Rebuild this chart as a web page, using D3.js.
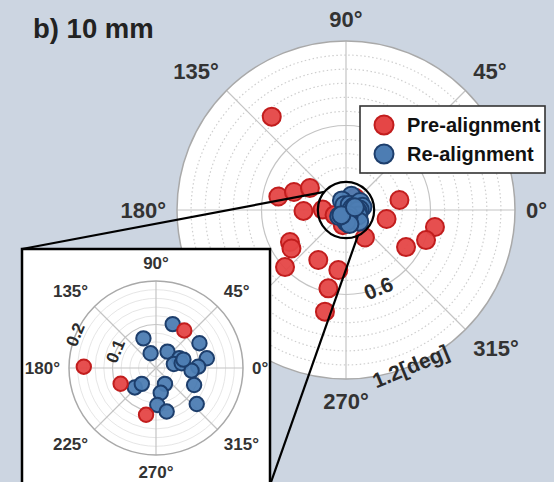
<!DOCTYPE html>
<html>
<head>
<meta charset="utf-8">
<script src="https://cdn.jsdelivr.net/npm/d3@7"></script>
<style>
  html, body { margin: 0; padding: 0; background: #ccd5e1; }
  svg { display: block; }
  text { font-family: "Liberation Sans", Arial, sans-serif; font-weight: bold; }
</style>
</head>
<body>
<svg id="chart" width="554" height="482"></svg>
<script>
// Pointing error (deg) and direction (deg) per measurement
const preRadius = [0.847, 0.490, 0.391, 0.300, 0.302, 0.166, 0.110, 0.089, 0.108,
                   0.386, 0.295, 0.643, 0.607, 0.501, 0.237, 0.458, 0.474, 0.593,
                   0.406, 0.430, 0.570, 0.737];
const preAngle  = [128.5, 168.7, 160.9, 148.6, 181.3, 179, 258, 204, 53,
                   10.6, 347.5, 349.2, 339.4, 328.3, 304.6, 209.7, 215.2, 223.1,
                   241, 262.7, 257.3, 258.3];
const reRadius  = [0.108, 0.074, 0.036, 0.046, 0.058, 0.042, 0.060, 0.115, 0.119,
                   0.097, 0.082, 0.096, 0.125, 0.042, 0.058, 0.085, 0.103, 0.066,
                   0.049, 0.066];
const reAngle   = [69.2, 113, 110, 55, 22.6, 12.5, 10.4, 29.7, 10.8,
                   1.8, 355.7, 335.9, 318.5, 299.4, 280.8, 272, 283.8, 222.6,
                   228.2, 17];

const angleTicks = [0, 45, 90, 135, 180, 225, 270, 315];
const mainRingTicks = [0.1, 0.2, 0.3, 0.4, 0.5, 0.6, 0.7, 0.8, 0.9, 1.0, 1.1];
const mainMajorRings = [0.6];
const mainRadialLabels = ["0.6", "1.2[deg]"];
const mainRadialLabelValues = [0.6, 1.2];
const insetRingTicks = [0.02, 0.04, 0.06, 0.08, 0.1, 0.12, 0.14, 0.16, 0.18];
const insetMajorRings = [0.1];
const insetRadialLabels = ["0.1", "0.2"];
const insetRadialLabelValues = [0.1, 0.2];

const seriesNames = ["Pre-alignment", "Re-alignment"];
const colors = {
  pre: { fill: "#e54646", stroke: "#c21d1d" },
  re:  { fill: "#4d7db3", stroke: "#1d3e6c" }
};

const svg = d3.select("#chart");
const rad = d => d * Math.PI / 180;

function polarPlot(g, opts) {
  const { cx, cy, rMax, rDomainMax, ringTicks, majorRings, minorStyle,
          labelSize, labelPad, markerR, radialLabels, radialValues,
          radialAngle, radialSize, drawOrder } = opts;
  const r = d3.scaleLinear().domain([0, rDomainMax]).range([0, rMax]);
  const pt = (rv, a) => [cx + r(rv) * Math.cos(rad(a)), cy - r(rv) * Math.sin(rad(a))];

  g.append("circle").attr("cx", cx).attr("cy", cy).attr("r", rMax)
    .attr("fill", "#ffffff");

  // concentric grid
  g.selectAll(null).data(ringTicks.filter(t => !majorRings.includes(t))).join("circle")
    .attr("cx", cx).attr("cy", cy).attr("r", d => r(d))
    .attr("fill", "none")
    .attr("stroke", minorStyle.color)
    .attr("stroke-width", minorStyle.width)
    .attr("stroke-dasharray", minorStyle.dash);
  g.selectAll(null).data(majorRings).join("circle")
    .attr("cx", cx).attr("cy", cy).attr("r", d => r(d))
    .attr("fill", "none").attr("stroke", "#c4c4c4").attr("stroke-width", 1.2);

  // spokes
  g.selectAll(null).data(angleTicks).join("line")
    .attr("x1", cx).attr("y1", cy)
    .attr("x2", d => pt(rDomainMax, d)[0]).attr("y2", d => pt(rDomainMax, d)[1])
    .attr("stroke", "#c4c4c4").attr("stroke-width", 1.2);

  // outer spine
  g.append("circle").attr("cx", cx).attr("cy", cy).attr("r", rMax)
    .attr("fill", "none").attr("stroke", "#a9a9a9").attr("stroke-width", 1.5);

  // angular labels: the label box's nearest corner sits labelPad outside the spine
  const eps = 1e-9;
  const sgn = v => (Math.abs(v) < eps ? 0 : Math.sign(v));
  const labelPos = d => {
    const c = Math.cos(rad(d)), s = Math.sin(rad(d));
    const w = (String(d).length * 0.556 + 0.4) * labelSize;
    const h = labelSize;
    return [cx + (rMax + labelPad) * c + sgn(c) * w / 2,
            cy - (rMax + labelPad) * s - sgn(s) * h / 2];
  };
  g.selectAll(null).data(angleTicks).join("text")
    .attr("font-size", labelSize)
    .attr("fill", "#333")
    .attr("text-anchor", "middle")
    .attr("dominant-baseline", "central")
    .attr("x", d => labelPos(d)[0])
    .attr("y", d => labelPos(d)[1])
    .text(d => d + "°");

  // radial labels, aligned with the ring tangent
  let rot = -(radialAngle - 90);
  while (rot > 90) rot -= 180;
  while (rot <= -90) rot += 180;
  g.selectAll(null).data(radialValues).join("text")
    .attr("font-size", radialSize)
    .attr("fill", "#2a2a2a")
    .attr("text-anchor", "middle")
    .attr("dominant-baseline", "central")
    .attr("transform", d => {
      const [x, y] = pt(d, radialAngle);
      return `translate(${x},${y}) rotate(${rot})`;
    })
    .text((d, i) => radialLabels[i]);

  const inRange = d => d.r <= rDomainMax;
  const series = {
    pre: preRadius.map((v, i) => ({ r: v, a: preAngle[i] })).filter(inRange),
    re: reRadius.map((v, i) => ({ r: v, a: reAngle[i] })).filter(inRange)
  };
  drawOrder.forEach(key => {
    g.append("g").selectAll("circle").data(series[key]).join("circle")
      .attr("cx", d => pt(d.r, d.a)[0])
      .attr("cy", d => pt(d.r, d.a)[1])
      .attr("r", markerR)
      .attr("fill", colors[key].fill)
      .attr("fill-opacity", 0.95)
      .attr("stroke", colors[key].stroke)
      .attr("stroke-width", 2);
  });
  return { r, pt };
}

// main polar chart
const mainCx = 346, mainCy = 210, mainR = 169;
const mainG = svg.append("g");
const main = polarPlot(mainG, {
  cx: mainCx, cy: mainCy, rMax: mainR, rDomainMax: 1.2,
  ringTicks: mainRingTicks, majorRings: mainMajorRings,
  minorStyle: { color: "#cfcfcf", width: 1.2, dash: "1.5,2.5" },
  labelSize: 22, labelPad: 11, markerR: 9,
  radialLabels: mainRadialLabels, radialValues: mainRadialLabelValues,
  radialAngle: 292.5, radialSize: 21, drawOrder: ["pre", "re"]
});

svg.append("text").attr("x", 33).attr("y", 38)
  .attr("font-size", 27.5).attr("fill", "#222").text("b) 10 mm");

// legend
const leg = svg.append("g");
leg.append("rect").attr("x", 360).attr("y", 106).attr("width", 185).attr("height", 67)
  .attr("fill", "#fff").attr("stroke", "#333").attr("stroke-width", 1.6);
["pre", "re"].forEach((k, i) => {
  leg.append("circle").attr("cx", 384).attr("cy", 125 + i * 29).attr("r", 9.5)
    .attr("fill", colors[k].fill).attr("stroke", colors[k].stroke).attr("stroke-width", 2);
  leg.append("text").attr("x", 407).attr("y", 132 + i * 29)
    .attr("font-size", 20).attr("fill", "#111").text(seriesNames[i]);
});

// zoom window on the main chart
const zoomMax = 0.2;
svg.append("circle").attr("cx", mainCx).attr("cy", mainCy).attr("r", main.r(zoomMax))
  .attr("fill", "none").attr("stroke", "#000").attr("stroke-width", 2.2);

// inset frame
const box = { x: 22, y: 249, w: 248, h: 236 };
const p1 = main.pt(zoomMax, 140), p2 = main.pt(zoomMax, 295);
svg.append("line").attr("x1", p1[0]).attr("y1", p1[1]).attr("x2", box.x).attr("y2", box.y)
  .attr("stroke", "#000").attr("stroke-width", 2.2);
svg.append("line").attr("x1", p2[0]).attr("y1", p2[1]).attr("x2", box.x + box.w).attr("y2", box.y + box.h)
  .attr("stroke", "#000").attr("stroke-width", 2.2);
svg.append("rect").attr("x", box.x).attr("y", box.y).attr("width", box.w).attr("height", box.h)
  .attr("fill", "#fff").attr("stroke", "#000").attr("stroke-width", 2.5);

// inset polar chart
const insetG = svg.append("g");
polarPlot(insetG, {
  cx: 156, cy: 368, rMax: 87, rDomainMax: zoomMax,
  ringTicks: insetRingTicks, majorRings: insetMajorRings,
  minorStyle: { color: "#e6e6e6", width: 1, dash: null },
  labelSize: 17, labelPad: 9, markerR: 7.2,
  radialLabels: insetRadialLabels, radialValues: insetRadialLabelValues,
  radialAngle: 157.5, radialSize: 17, drawOrder: ["re", "pre"]
});
</script>
</body>
</html>
